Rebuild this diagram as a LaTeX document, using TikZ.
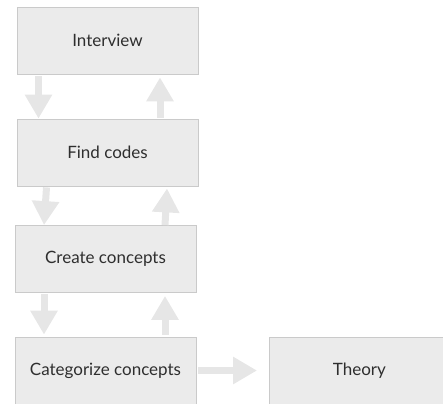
\documentclass[tikz,border=0pt]{standalone}
\usepackage{fontspec}
\setmainfont{Lato}
\usetikzlibrary{arrows.meta}
\definecolor{boxfill}{HTML}{EBEBEB}
\definecolor{boxline}{HTML}{CACACA}
\definecolor{arrowfill}{HTML}{E6E6E6}
\definecolor{labeltext}{HTML}{2E2E2E}
\begin{document}
\begin{tikzpicture}[x=1pt,y=-1pt,
  stage/.style={draw=boxline, fill=boxfill, line width=0.8pt, text=labeltext,
    font=\fontsize{17}{20}\selectfont, minimum height=67pt, inner sep=0pt},
  fatarrow/.style={draw=arrowfill, line width=7pt,
    -{Triangle[width=26pt,length=24pt]}}]
\useasboundingbox (0,0) rectangle (443,403);
\clip (0,0) rectangle (443,403);
% stage boxes
\node[stage, minimum width=181pt] (int) at (107.5,40.5) {Interview};
\node[stage, minimum width=181pt] (find) at (107.5,152.5) {Find codes};
\node[stage, minimum width=181pt] (create) at (105.5,259) {Create concepts};
\node[stage, minimum width=181pt] (cat) at (105.5,370.5) {Categorize concepts};
\node[stage, minimum width=200pt, anchor=west] (theory) at (269,370.5) {\hspace*{-20pt}Theory};
% downward and upward block arrows between the stages
\draw[fatarrow] ([xshift=-69pt,yshift=-2pt]int.south) -- ([xshift=-69pt]find.north);
\draw[fatarrow] ([xshift=52.5pt,yshift=1pt]find.north) -- ([xshift=52.5pt,yshift=-3pt]int.south);
\draw[fatarrow] ([xshift=-61pt,yshift=-1pt]find.south) -- ([xshift=-61.5pt]create.north);
\draw[fatarrow] ([xshift=59.5pt]create.north) -- ([xshift=59.5pt,yshift=-2pt]find.south);
\draw[fatarrow] ([xshift=-61.5pt,yshift=-1pt]create.south) -- ([xshift=-61.5pt,yshift=2pt]cat.north);
\draw[fatarrow] ([xshift=59.5pt,yshift=2pt]cat.north) -- ([xshift=59.5pt,yshift=-3pt]create.south);
% arrow into the theory box
\draw[fatarrow] ([xshift=2pt]cat.east) -- ([xshift=-12pt]theory.west);
\end{tikzpicture}
\end{document}
